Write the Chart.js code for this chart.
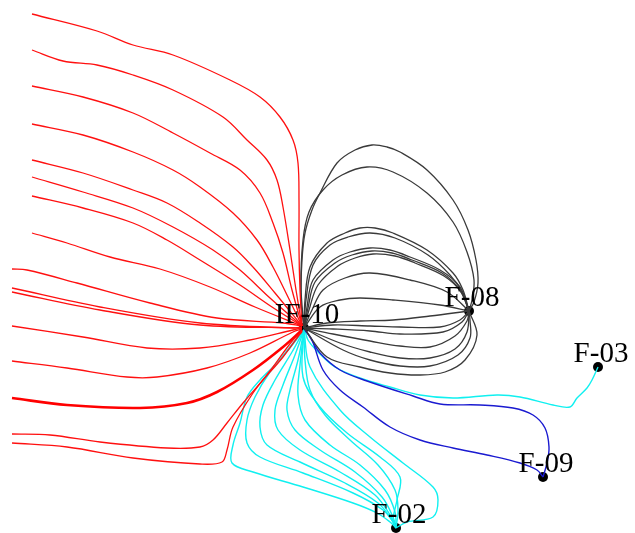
<!DOCTYPE html>
<html>
<head>
<meta charset="utf-8">
<script src="https://cdn.jsdelivr.net/npm/chart.js@4/dist/chart.umd.min.js"></script>
<style>
  html, body { margin: 0; padding: 0; background: #ffffff; }
  #wrap { width: 635px; height: 533px; position: relative; }
</style>
</head>
<body>
<div id="wrap"><canvas id="c"></canvas></div>
<script>
// Well names and map positions (map units: x east, y south)
const wellNames = ["IF-10", "F-08", "F-03", "F-09", "F-02"];
const wellX = [304, 469, 598, 543, 396];
const wellY = [328, 311, 367, 477, 528];

// Streamlines entering the injector from the west boundary (red)
const redLines = [
  [[32,14],[97,31],[133,45],[173,55],[230,80],[260,97],[280,117],[293,140],[298,163],[299,200],[299,250],[300,290],[302,326]],
  [[32,50],[63,61],[97,65],[133,75],[173,90],[223,117],[247,140],[267,160],[277,180],[283,207],[290,250],[296,290],[302,326]],
  [[32,86],[83,97],[133,113],[173,133],[210,153],[240,170],[260,193],[273,223],[283,253],[292,290],[302,326]],
  [[32,124],[83,135],[133,152],[173,170],[200,187],[233,213],[257,240],[273,267],[288,297],[302,326]],
  [[32,160],[83,173],[133,190],[167,203],[200,223],[233,247],[253,267],[275,293],[302,326]],
  [[32,177],[83,192],[133,208],[173,227],[213,250],[240,270],[270,298],[302,326]],
  [[32,196],[83,208],[133,223],[167,240],[200,260],[240,285],[272,307],[302,326]],
  [[32,233],[67,243],[110,257],[160,269],[210,287],[255,307],[302,326]],
  [[12,269],[27,270],[77,283],[150,303],[217,318],[283,323],[302,326]],
  [[12,288],[100,307],[200,323],[293,328],[302,327]],
  [[12,292],[100,310],[200,325],[302,328]],
  [[12,326],[83,337],[147,348],[200,348],[250,340],[293,330],[302,328]],
  [[12,361],[67,368],[127,377],[157,377],[207,368],[250,353],[293,332],[302,329]],
  [[12,434],[50,435],[100,442],[167,448],[200,447],[213,440],[227,423],[243,403],[263,380],[283,357],[302,331]],
  [[12,443],[67,447],[133,458],[200,464],[222,462],[227,450],[233,427],[253,393],[273,367],[293,340],[302,332]]
];
// The heavier red streamline
const redMain = [[12,398],[67,405],[140,408],[187,403],[217,392],[253,370],[283,347],[302,330]];

// IF-10 -> F-08 streamlines (dark grey)
const greyLines = [
  [[304,328],[301,300],[302,260],[305,233],[312,210],[320,193],[337,163],[355,150],[372,145],[387,147],[400,152],[427,170],[453,200],[468,230],[476,260],[478,283],[474,302],[469,311]],
  [[304,328],[301,287],[303,240],[309,212],[323,190],[342,175],[367,167],[393,172],[427,193],[453,222],[467,252],[474,280],[472,300],[469,311]],
  [[304,328],[305,300],[310,267],[327,243],[345,233],[360,228],[375,228],[393,233],[427,250],[453,273],[463,290],[469,311]],
  [[304,328],[306,300],[313,265],[330,245],[348,237],[370,233],[395,238],[428,255],[450,275],[462,292],[469,311]],
  [[304,328],[307,307],[313,280],[333,260],[350,252],[370,248],[390,250],[410,257],[440,270],[460,287],[469,311]],
  [[304,328],[308,308],[315,282],[335,263],[352,255],[372,251],[392,253],[412,260],[442,273],[460,290],[469,311]],
  [[304,328],[309,310],[318,285],[338,266],[355,258],[373,254],[395,256],[415,263],[444,276],[461,292],[469,311]],
  [[304,328],[312,310],[323,290],[345,278],[370,273],[410,280],[447,292],[469,311]],
  [[304,328],[320,307],[340,300],[360,298],[393,300],[440,305],[469,311]],
  [[304,328],[327,323],[360,321],[393,320],[430,316],[469,311]],
  [[304,328],[333,325],[370,326],[400,327],[440,327],[460,320],[469,311]],
  [[304,328],[333,329],[370,331],[400,334],[443,332],[462,322],[469,311]],
  [[304,328],[333,334],[370,341],[400,346],[430,347],[455,336],[467,321],[469,311]],
  [[304,328],[340,343],[370,352],[400,358],[430,358],[455,349],[467,332],[469,311]],
  [[304,328],[343,350],[370,360],[400,366],[430,366],[458,355],[470,338],[470,320],[469,311]],
  [[304,328],[327,357],[360,367],[390,373],[420,375],[445,372],[465,360],[477,335],[469,311]]
];

// IF-10 -> F-09 streamlines (blue)
const blueLines = [
  [[305,330],[310,337],[320,353],[340,370],[367,381],[413,396],[440,404],[480,405],[513,408],[533,415],[545,428],[549,447],[547,463],[543,477]],
  [[305,330],[312,340],[323,370],[340,390],[363,407],[390,427],[420,440],[453,448],[487,455],[520,463],[537,470],[543,477]]
];

// IF-10 -> F-03 and IF-10 -> F-02 streamlines (cyan)
const cyanLines = [
  [[305,330],[308,340],[318,352],[335,367],[360,378],[390,387],[420,395],[453,398],[497,395],[520,397],[553,405],[570,407],[577,398],[587,388],[592,380],[598,367]],
  [[304,330],[293,343],[277,363],[260,380],[247,397],[240,423],[233,445],[232,463],[253,472],[303,487],[353,503],[377,513],[390,522],[396,528]],
  [[304,330],[290,348],[270,372],[255,397],[247,420],[247,443],[260,457],[303,473],[353,493],[383,510],[393,522],[396,528]],
  [[304,330],[292,352],[275,380],[263,405],[260,427],[267,445],[300,462],[345,483],[378,503],[392,520],[396,528]],
  [[304,330],[295,355],[283,385],[275,410],[278,430],[300,450],[340,472],[375,495],[390,515],[396,528]],
  [[304,330],[298,360],[290,390],[287,410],[295,430],[320,450],[355,472],[382,497],[393,517],[396,528]],
  [[304,330],[300,365],[298,395],[305,420],[330,445],[360,465],[385,490],[395,512],[396,528]],
  [[304,330],[305,360],[310,390],[325,415],[350,440],[378,465],[395,490],[398,510],[396,528]],
  [[304,330],[303,377],[320,407],[347,433],[380,457],[400,477],[397,500],[393,520],[396,528]],
  [[304,330],[310,367],[340,410],[370,437],[403,463],[433,487],[438,500],[433,517],[407,522],[396,528]]
];

function toPts(arr) { return arr.map(p => ({ x: p[0], y: p[1] })); }
function lineSet(arr, color, width) {
  return {
    data: toPts(arr), showLine: true, fill: false, clip: false,
    borderColor: color, borderWidth: width, tension: 0.35,
    pointRadius: 0, pointHoverRadius: 0
  };
}

const datasets = [];
redLines.forEach(l => datasets.push(lineSet(l, "#ff1010", 1.3)));
datasets.push(lineSet(redMain, "#ff0000", 2.6));
greyLines.forEach(l => datasets.push(lineSet(l, "#3a3a3a", 1.3)));
blueLines.forEach(l => datasets.push(lineSet(l, "#1a1ad0", 1.4)));
cyanLines.forEach(l => datasets.push(lineSet(l, "#10f0f0", 1.4)));

// Well markers
datasets.push({
  data: wellX.map((x, i) => ({ x: x, y: wellY[i] })),
  showLine: false, clip: false, pointRadius: 5, pointHoverRadius: 5,
  pointBackgroundColor: "#000000", pointBorderColor: "#000000", borderWidth: 0
});

// Well name labels above each marker
const wellLabels = {
  id: "wellLabels",
  afterDatasetsDraw(chart) {
    const ctx = chart.ctx;
    const xs = chart.scales.x, ys = chart.scales.y;
    ctx.save();
    ctx.font = "29px 'Liberation Serif', 'DejaVu Serif', serif";
    ctx.fillStyle = "#000000";
    ctx.textAlign = "center";
    ctx.textBaseline = "alphabetic";
    wellNames.forEach((name, i) => {
      const px = xs.getPixelForValue(wellX[i]);
      const py = ys.getPixelForValue(wellY[i]);
      ctx.fillText(name, px + 3, py - 5);
    });
    ctx.restore();
  }
};

new Chart(document.getElementById("c"), {
  type: "scatter",
  data: { datasets: datasets },
  options: {
    responsive: true,
    maintainAspectRatio: false,
    animation: false,
    layout: { padding: 0, autoPadding: false },
    plugins: { legend: { display: false }, tooltip: { enabled: false } },
    scales: {
      x: { type: "linear", min: 0, max: 635, display: false },
      y: { type: "linear", min: 0, max: 533, reverse: true, display: false }
    }
  },
  plugins: [wellLabels]
});
</script>
</body>
</html>
